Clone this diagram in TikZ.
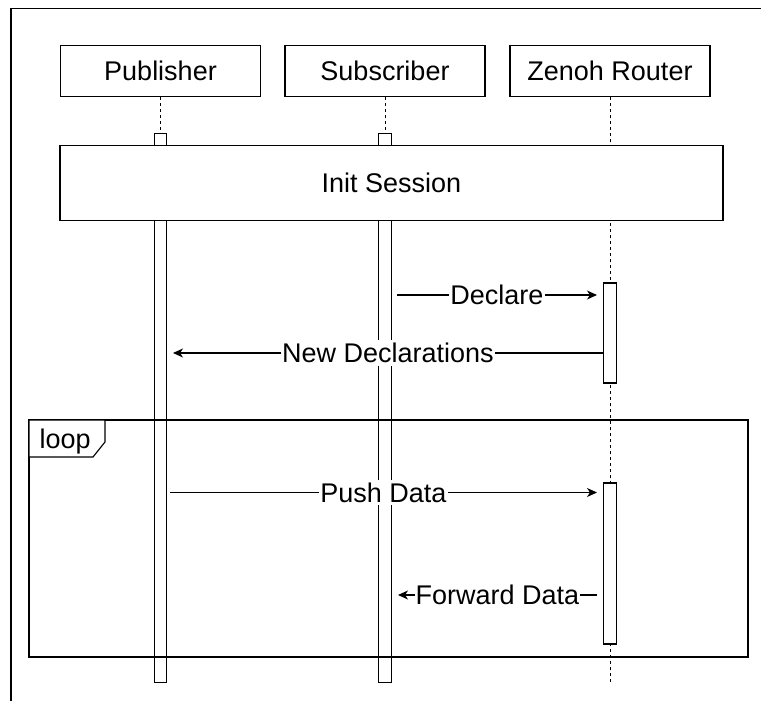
\documentclass[tikz,border=0pt]{standalone}
\usepackage{fontspec}
\setmainfont{Liberation Sans}
\usetikzlibrary{arrows.meta}
\begin{document}
\begin{tikzpicture}[x=1pt,y=-1pt,line width=1.1pt,
  every node/.style={font=\fontsize{27}{32}\selectfont,inner sep=0pt,text height=19.3pt,text depth=0pt},
  actor/.style={draw,fill=white,minimum width=200pt,minimum height=50.5pt},
  life/.style={dash pattern=on 3pt off 3pt,line width=1pt},
  bar/.style={draw,fill=white,minimum width=12.5pt},
  msg/.style={-{Stealth[length=10pt,width=9pt,inset=3pt]}},
  lbl/.style={fill=white,inner xsep=1pt,inner ysep=3pt}]
\useasboundingbox (0,0) rectangle (761,701);
% outer frame (only top and left edges in view)
\draw (11,701) -- (11,8.5) -- (761,8.5);
% actors
\node[actor] (pub) at (160.5,71) {Publisher};
\node[actor] (sub) at (385,71) {Subscriber};
\node[actor] (rtr) at (610,71) {Zenoh Router};
% lifeline ends
\coordinate (pubend) at (160.5,133);
\coordinate (subend) at (385,133);
\coordinate (rtrend) at (610,682);
\draw[life] (pub.south) -- (pubend);
\draw[life] (sub.south) -- (subend);
\draw[life] (rtr.south) -- (rtrend);
% activation bars
\node[bar,minimum height=549.5pt] (pubbar) at (160.5,408) {};
\node[bar,minimum height=549.5pt] (subbar) at (385,408) {};
\node[bar,minimum height=100pt] (rb1) at (610,333) {};
\node[bar,minimum height=161pt] (rb2) at (610,563.5) {};
% init session
\node[draw,fill=white,minimum width=663pt,minimum height=75pt] (init) at (391.5,183.2) {Init Session};
% loop frame
\draw (29,420) rectangle (748,657);
\draw[fill=white] (29,420) -- (105,420) -- (105,442) -- (93,457) -- (29,457) -- cycle;
\node[anchor=west] (looplbl) at (39,439) {loop};
% messages
\coordinate (d1) at (397,295);
\coordinate (d2) at (597,295);
\coordinate (n1) at (603,353);
\coordinate (n2) at (173,353);
\coordinate (p1) at (170,492.5);
\coordinate (p2) at (597,492.5);
\coordinate (f1) at (597,595);
\coordinate (f2) at (398,595);
\draw[msg] (d1) -- (d2) node[midway,lbl] (dl) {Declare};
\draw[msg] (n1) -- (n2) node[midway,lbl] (nl) {New Declarations};
\draw[msg] (p1) -- (p2) node[midway,lbl] (pl) {Push Data};
\draw[msg] (f1) -- (f2) node[midway,lbl] (fl) {Forward Data};
\end{tikzpicture}
\end{document}
